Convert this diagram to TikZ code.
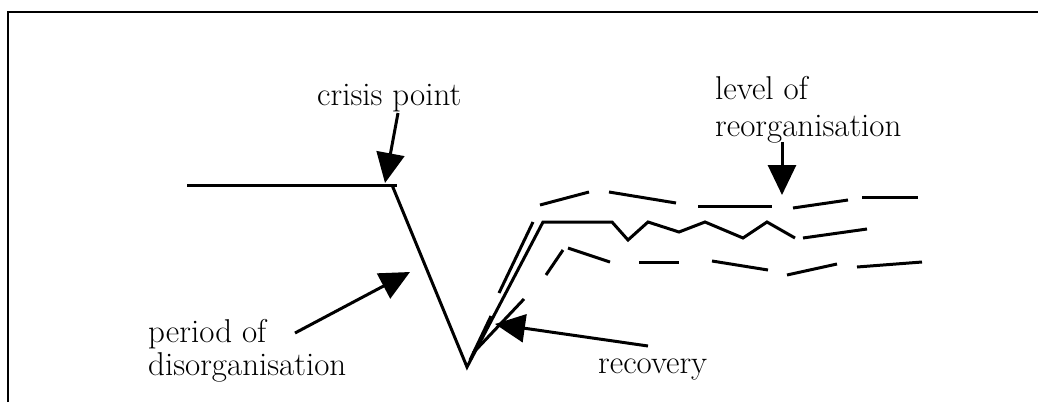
\documentclass[tikz,border=0pt]{standalone}
\usetikzlibrary{arrows.meta}
\begin{document}
\begin{tikzpicture}[x=1pt,y=-1pt,
  curve/.style={line width=3pt, line join=miter},
  frameline/.style={line width=2.6pt},
  pointer/.style={line width=3pt, -{Triangle[width=28pt,length=30pt]}},
  lbl/.style={inner sep=0pt, anchor=base west, font=\fontsize{33}{36}\selectfont}]
\useasboundingbox (0,0) rectangle (1038,402);

% frame
\draw[frameline] (8,402) -- (8,12) -- (1038,12);

% main course: steady state, crisis, fall and recovery with oscillation
\draw[curve] (187,185) -- (397,185);
\draw[curve] (392,185) -- (467,367) -- (543,222) -- (612,222)
  -- (628,240) -- (648,222) -- (679,232) -- (705,222)
  -- (743,238) -- (767,222) -- (795,238);
\draw[curve] (803,238) -- (867,229);

% upper dashed course
\draw[curve] (533,222) -- (499,293);
\draw[curve] (491,316) -- (470,360);
\draw[curve] (540,205) -- (589,192);
\draw[curve] (609,192) -- (676,203);
\draw[curve] (698,206) -- (772,206);
\draw[curve] (793,208) -- (848,200);
\draw[curve] (862,197) -- (918,197);

% lower dashed course
\draw[curve] (473,353) -- (524,299);
\draw[curve] (546,275) -- (563,250);
\draw[curve] (568,248) -- (610,262);
\draw[curve] (639,262) -- (679,262);
\draw[curve] (712,261) -- (768,270);
\draw[curve] (787,275) -- (837,264);
\draw[curve] (857,267) -- (922,262);

% labels
\node[lbl] (crisis) at (317,105) {crisis point};
\node[lbl] (level1) at (715,99) {level of};
\node[lbl] (level2) at (715,136) {reorganisation};
\node[lbl] (period1) at (148,342) {period of};
\node[lbl] (period2) at (148,375) {disorganisation};
\node[lbl] (recov) at (598,373) {recovery};

% pointer ends
\coordinate (crisisA) at (398,113);
\coordinate (crisisB) at (385,183);
\coordinate (levelA) at (782,142);
\coordinate (levelB) at (782,195);
\coordinate (periodA) at (295,333);
\coordinate (periodB) at (410,272);
\coordinate (recovA) at (648,346);
\coordinate (recovB) at (495,324);

\draw[pointer] (crisisA) -- (crisisB);
\draw[pointer] (levelA) -- (levelB);
\draw[pointer] (periodA) -- (periodB);
\draw[pointer] (recovA) -- (recovB);
\end{tikzpicture}
\end{document}
